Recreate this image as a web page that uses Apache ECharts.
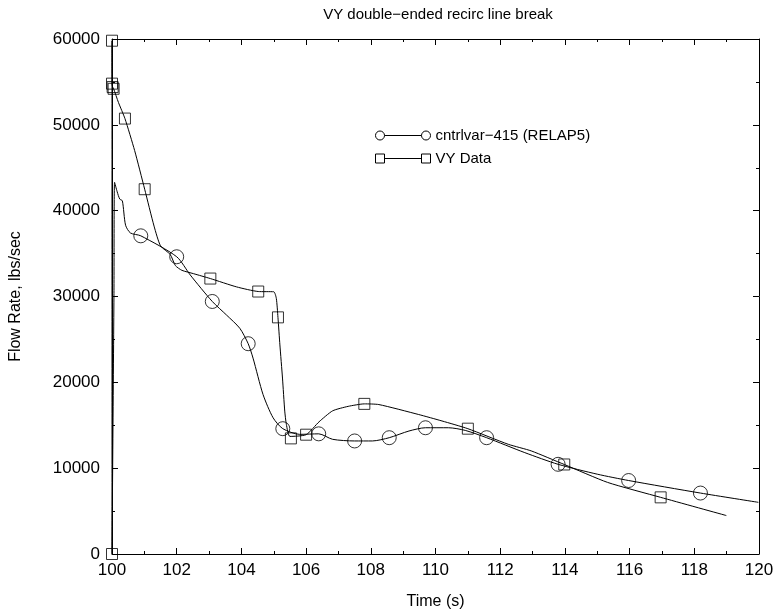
<!DOCTYPE html>
<html>
<head>
<meta charset="utf-8">
<title>VY double-ended recirc line break</title>
<script src="https://cdn.jsdelivr.net/npm/echarts@6/dist/echarts.min.js"></script>
<style>
  html, body { margin: 0; padding: 0; background: #fff; }
  #chart { width: 777px; height: 615px; }
</style>
</head>
<body>
<div id="chart"></div>
<script>
// Curve: [time s, flow lbs/sec]
const relapLine = [
  [100.0, 0], [100.06, 30000], [100.08, 43300], [100.16, 42200], [100.24, 41350],
  [100.32, 41150], [100.42, 38300], [100.57, 37400], [100.89, 37070], [102.0, 34630],
  [102.42, 32500], [103.1, 29420], [103.54, 27840], [103.95, 26300], [104.21, 24500],
  [104.36, 22820], [104.67, 18570], [104.98, 15870], [105.28, 14600], [105.8, 13940],
  [106.39, 14000], [106.82, 13360], [107.5, 13170], [108.05, 13170], [108.57, 13550],
  [109.18, 14330], [109.69, 14710], [110.4, 14710], [110.92, 14400], [111.58, 13550],
  [112.76, 11810], [113.79, 10450], [115.0, 9300], [115.97, 8560], [118.19, 7100],
  [119.98, 6020]
];
const relapMarks = [
  [100.89, 37070], [102.0, 34630], [103.1, 29420], [104.21, 24500], [105.28, 14600],
  [106.39, 14000], [107.5, 13170], [108.57, 13550], [109.69, 14710], [111.58, 13550],
  [113.79, 10450], [115.97, 8560], [118.19, 7100]
];

const vyLine = [
  [100.0, 0], [100.0, 59800], [100.0, 54800], [100.02, 54400], [100.05, 54200],
  [100.2, 52600], [100.4, 50730], [100.7, 47000], [101.01, 42500], [101.3, 38200],
  [101.5, 35900], [101.8, 34900], [101.96, 33600], [102.16, 33050], [102.52, 32660],
  [103.04, 32090], [103.85, 31120], [104.52, 30580], [105.0, 30550], [105.08, 29770],
  [105.13, 27570], [105.19, 24360], [105.27, 20500], [105.34, 16650], [105.39, 15100],
  [105.5, 13700], [106.0, 13900], [106.4, 15400], [106.82, 16680], [107.3, 17200],
  [107.8, 17490], [108.25, 17410], [109.48, 16250], [110.2, 15500], [111.0, 14600],
  [112.25, 12780], [112.96, 12010], [113.98, 10430], [115.32, 8340], [116.96, 6600],
  [118.99, 4480]
];
const vyMarks = [
  [100.0, 0], [100.0, 59800], [100.0, 54800], [100.02, 54400], [100.05, 54200],
  [100.4, 50730], [101.01, 42500], [103.04, 32090], [104.52, 30580], [105.13, 27570],
  [105.53, 13470], [106.0, 13900], [107.8, 17490], [111.0, 14600], [113.98, 10430],
  [116.96, 6600]
];

const seriesNames = ['cntrlvar\u2212415 (RELAP5)', 'VY Data'];

const FONT = 'Liberation Sans, Arial, sans-serif';
const circleIcon = 'path://M0.5,5a4.5,4.5 0 1,0 9,0a4.5,4.5 0 1,0 -9,0M9.5,5L46.5,5M46.5,5a4.5,4.5 0 1,0 9,0a4.5,4.5 0 1,0 -9,0';
const squareIcon = 'path://M0.5,0.5h9v9h-9zM9.5,5L46.5,5M46.5,0.5h9v9h-9z';

const chart = echarts.init(document.getElementById('chart'));

function frameAxis(extra) {
  return Object.assign({
    type: 'value',
    axisLine: { show: true, onZero: false, lineStyle: { color: '#000', width: 1 } },
    axisTick: { show: true, inside: true, length: 6, lineStyle: { color: '#000' } },
    minorTick: { show: true, splitNumber: 2, length: 3, lineStyle: { color: '#000' } },
    splitLine: { show: false },
    axisLabel: { show: false }
  }, extra);
}

const option = {
  animation: false,
  backgroundColor: '#fff',
  textStyle: { fontFamily: FONT, color: '#000' },
  title: {
    text: 'VY double\u2212ended recirc line break',
    left: 433, textAlign: 'center', top: 2,
    textStyle: { fontFamily: FONT, fontSize: 15, fontWeight: 'normal', color: '#000' }
  },
  grid: { left: 108, right: 18, top: 39, bottom: 58 },
  legend: {
    orient: 'vertical', left: 370, top: 123, itemGap: 8,
    itemWidth: 55, itemHeight: 11,
    data: [
      { name: seriesNames[0], icon: circleIcon },
      { name: seriesNames[1], icon: squareIcon }
    ],
    itemStyle: { color: 'rgba(0,0,0,0)', borderColor: '#000', borderWidth: 1 },
    textStyle: { fontFamily: FONT, fontSize: 15, color: '#000', padding: [0, 0, 0, 0] }
  },
  xAxis: [
    frameAxis({
      min: 100, max: 120, interval: 2,
      name: 'Time (s)', nameLocation: 'middle', nameGap: 40,
      nameTextStyle: { fontFamily: FONT, fontSize: 16, color: '#000' },
      axisLabel: { show: true, fontFamily: FONT, fontSize: 17, color: '#000', margin: 8 }
    }),
    frameAxis({ min: 100, max: 120, interval: 2, position: 'top' })
  ],
  yAxis: [
    frameAxis({
      min: 0, max: 60000, interval: 10000,
      name: 'Flow Rate, lbs/sec', nameLocation: 'middle', nameGap: 88,
      nameTextStyle: { fontFamily: FONT, fontSize: 16, color: '#000' },
      axisLabel: {
        show: true, fontFamily: FONT, fontSize: 17, color: '#000', margin: 12,
        formatter: function (v) { return String(v); }
      }
    }),
    frameAxis({ min: 0, max: 60000, interval: 10000, position: 'right' })
  ],
  series: [
    {
      name: seriesNames[0], type: 'line', data: relapLine,
      showSymbol: false, smooth: 0.25,
      lineStyle: { color: '#000', width: 1 }, itemStyle: { color: '#000' }
    },
    {
      name: seriesNames[1], type: 'line', data: vyLine,
      showSymbol: false, smooth: 0.2,
      lineStyle: { color: '#000', width: 1 }, itemStyle: { color: '#000' }
    },
    {
      name: 'relapMarks', type: 'scatter', data: relapMarks,
      symbol: 'circle', symbolSize: 14,
      itemStyle: { color: 'rgba(0,0,0,0)', borderColor: '#000', borderWidth: 1 }
    },
    {
      name: 'vyMarks', type: 'scatter', data: vyMarks,
      symbol: 'rect', symbolSize: 11,
      itemStyle: { color: 'rgba(0,0,0,0)', borderColor: '#000', borderWidth: 1 }
    }
  ]
};

chart.setOption(option);
window.addEventListener('resize', function () { chart.resize(); });
</script>
</body>
</html>
